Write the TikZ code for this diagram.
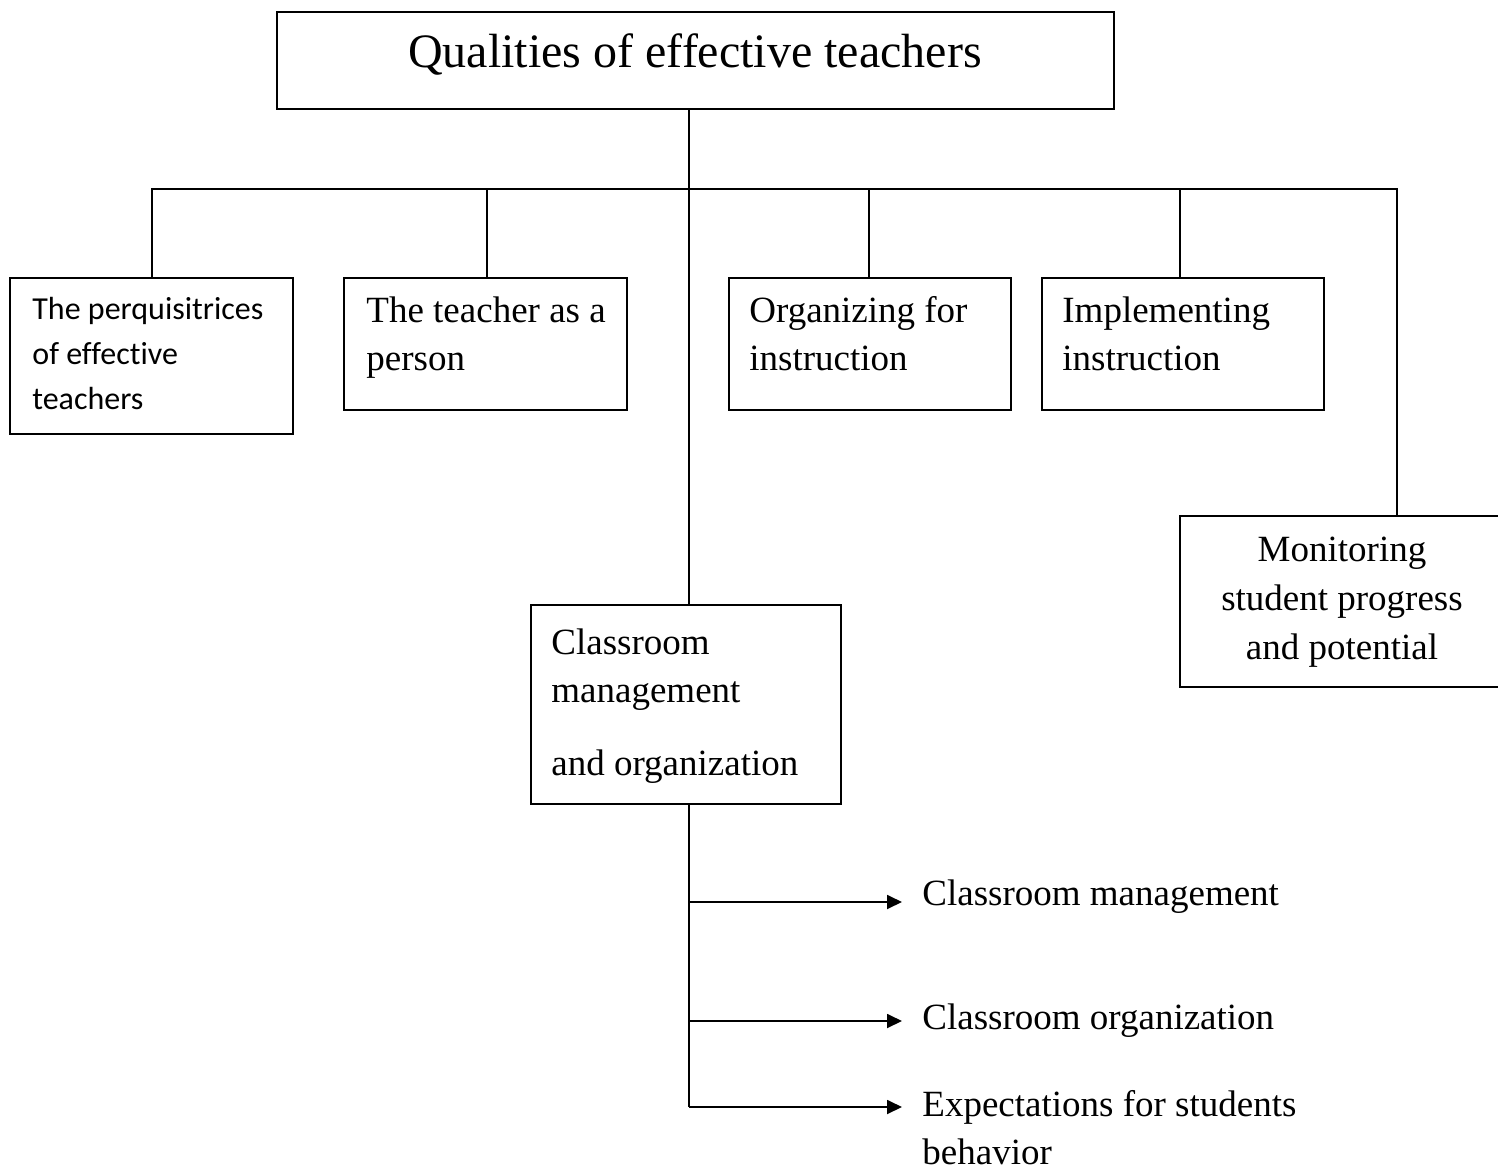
\documentclass[tikz,border=0pt]{standalone}
\usepackage{fontspec}
\setmainfont{Liberation Serif}
\newfontfamily\calib[Ligatures=NoCommon]{Carlito}
\usetikzlibrary{arrows.meta}
\begin{document}
\begin{tikzpicture}[x=0.5pt,y=-0.5pt,
  box/.style={draw,line width=0.9pt,inner sep=0pt,minimum width=#1},
  body/.style={inner sep=0pt,font=\fontsize{18.5}{24}\selectfont},
  link/.style={line width=0.9pt},
  arr/.style={line width=0.9pt,-{Triangle[length=7.5pt,width=7pt]}}]
\useasboundingbox (0,0) rectangle (1498,1171);
\clip (0,0) rectangle (1498,1171);
% boxes
\node[box=418.5pt,minimum height=48.5pt] (title) at (695.5,60.5) {};
\node[box=141.5pt,minimum height=78pt] (b1) at (151.5,356) {};
\node[box=141.5pt,minimum height=66pt] (b2) at (485.5,344) {};
\node[box=141pt,minimum height=66pt] (b3) at (870,344) {};
\node[box=141pt,minimum height=66pt] (b4) at (1183,344) {};
\node[box=165pt,minimum height=85.5pt] (b5) at (1345,601.5) {};
\node[box=155pt,minimum height=99.5pt] (cls) at (686,704.5) {};
% texts
\node[inner sep=0pt,font=\fontsize{24}{28}\selectfont,anchor=base] (titletext) at (695,68) {Qualities of effective teachers};
\node[inner sep=0pt,font=\calib\fontsize{16}{22.5}\selectfont,align=left,anchor=base west] (t1) at (32,409) {The perquisitrices\\of effective\\teachers};
\node[body,align=left,anchor=base west] (t2) at (366,371) {The teacher as a\\person};
\node[body,align=left,anchor=base west] (t3) at (749,371) {Organizing for\\instruction};
\node[body,align=left,anchor=base west] (t4) at (1062,371) {Implementing\\instruction};
\node[body,font=\fontsize{18.5}{24.5}\selectfont,align=center,anchor=base] (t5) at (1342,659) {Monitoring\\student progress\\and potential};
\node[body,align=left,anchor=base west] (t6) at (551,775) {Classroom\\management\\[12.5pt]and organization};
\node[body,anchor=base west] (l1) at (922,905) {Classroom management};
\node[body,anchor=base west] (l2) at (922,1029) {Classroom organization};
\node[body,align=left,anchor=base west] (l3) at (922,1164) {Expectations for students\\behavior};
% connector coordinates
\coordinate (tx) at (689,0);
\coordinate (bar) at (0,189);
\coordinate (d1) at (152,189);
\coordinate (d2) at (487,189);
\coordinate (d3) at (869,189);
\coordinate (d4) at (1180,189);
\coordinate (d5) at (1397,189);
\coordinate (e1) at (902,902);
\coordinate (e2) at (902,1021);
\coordinate (e3) at (902,1107);
% top connectors
\draw[link] (title.south -| tx) -- (cls.north -| tx);
\draw[link] (b1.north -| d1) -- (d1) -- (d5) -- (b5.north -| d5);
\draw[link] (b2.north -| d2) -- (d2);
\draw[link] (b3.north -| d3) -- (d3);
\draw[link] (b4.north -| d4) -- (d4);
% bottom connectors
\draw[link] (cls.south -| tx) -- (e3 -| tx);
\draw[arr] (e1 -| tx) -- (e1);
\draw[arr] (e2 -| tx) -- (e2);
\draw[arr] (e3 -| tx) -- (e3);
\end{tikzpicture}
\end{document}
